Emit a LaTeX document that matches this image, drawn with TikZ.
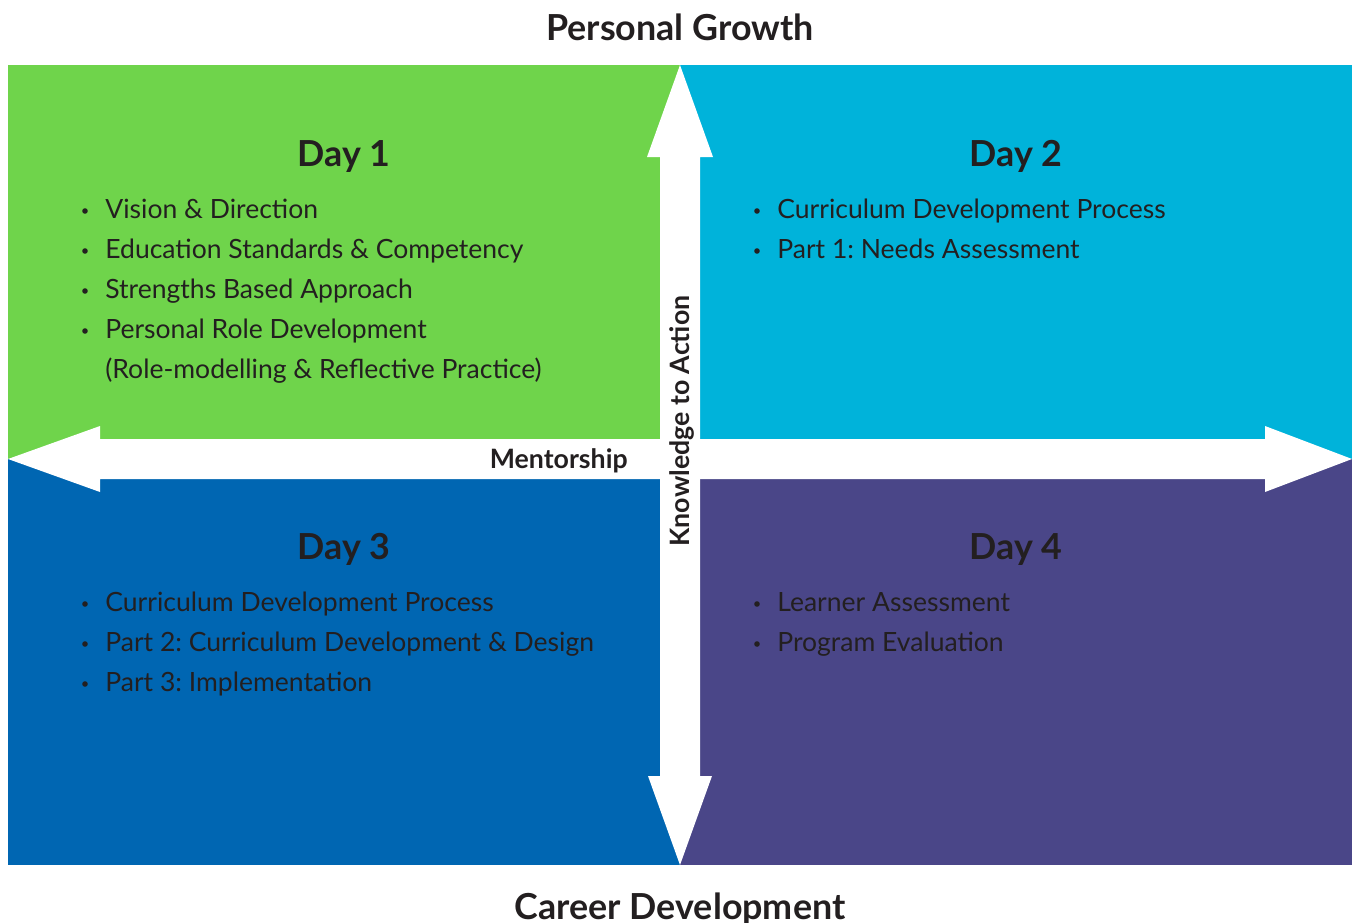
\documentclass[tikz,border=0pt]{standalone}
\usepackage{fontspec}
\setmainfont{Lato}
\usepackage{xcolor}
\definecolor{dayone}{HTML}{6FD44B}
\definecolor{daytwo}{HTML}{00B3DA}
\definecolor{daythree}{HTML}{0066B2}
\definecolor{dayfour}{HTML}{4A4688}
\definecolor{ink}{HTML}{231F20}
\frenchspacing

\begin{document}
\begin{tikzpicture}[x=0.02cm, y=-0.02cm, font=\fontsize{15.1}{18}\selectfont, text=ink,
	heading/.style={font=\fontsize{20.4}{24}\selectfont\bfseries, anchor=base, inner sep=0pt},
	axis/.style={font=\fontsize{15.2}{18}\selectfont\bfseries, inner sep=0pt},
	item/.style={anchor=base west, inner sep=0pt}]
	\def\R{2.8}
	\useasboundingbox (0,0) rectangle (1353,923);

	% quadrants
	\fill[dayone]   (8,65)    rectangle (680,459);
	\fill[daytwo]   (680,65)  rectangle (1352,459);
	\fill[daythree] (8,459)   rectangle (680,865);
	\fill[dayfour]  (680,459) rectangle (1352,865);

	% white axes with arrow heads
	\fill[white] (680,65) -- (713,157) -- (700,157) -- (700,776) -- (712,776) -- (680,865)
		-- (648,776) -- (660,776) -- (660,157) -- (647,157) -- cycle;
	\fill[white] (8,459) -- (100,426) -- (100,439) -- (1265,439) -- (1265,426) -- (1352,459)
		-- (1265,492) -- (1265,479) -- (100,479) -- (100,492) -- cycle;

	% axis labels
	\node[heading] (top) at (680,40) {Personal Growth};
	\node[heading] (bottom) at (680,919) {Career Development};
	\node[axis, anchor=base east] (mentor) at (628,468) {Mentorship};
	\node[axis, anchor=base, rotate=90] (k2a) at (689,421) {Knowledge to Action};

	% day titles
	\node[heading] (day1) at (344,166) {Day 1};
	\node[heading] (day2) at (1016,166) {Day 2};
	\node[heading] (day3) at (344,559) {Day 3};
	\node[heading] (day4) at (1016,559) {Day 4};

	% day 1 topics
	\foreach \t [count=\i] in {Vision \& Direction, Education Standards \& Competency,
		Strengths Based Approach, Personal Role Development}	{
		\node[item] (a\i) at (105,178+40*\i) {\t};
		\fill[ink] (85,171+40*\i) circle (\R);
	}
	\node[item] (a5) at (105,378) {(Role-modelling \& Reflective Practice)};

	% day 2 topics
	\foreach \t [count=\i] in {Curriculum Development Process, Part 1: Needs Assessment}	{
		\node[item] (b\i) at (777,178+40*\i) {\t};
		\fill[ink] (757,171+40*\i) circle (\R);
	}

	% day 3 topics
	\foreach \t [count=\i] in {Curriculum Development Process,
		Part 2: Curriculum Development \& Design, Part 3: Implementation}	{
		\node[item] (c\i) at (105,571+40*\i) {\t};
		\fill[ink] (85,564+40*\i) circle (\R);
	}

	% day 4 topics
	\foreach \t [count=\i] in {Learner Assessment, Program Evaluation}	{
		\node[item] (d\i) at (777,571+40*\i) {\t};
		\fill[ink] (757,564+40*\i) circle (\R);
	}
\end{tikzpicture}
\end{document}
